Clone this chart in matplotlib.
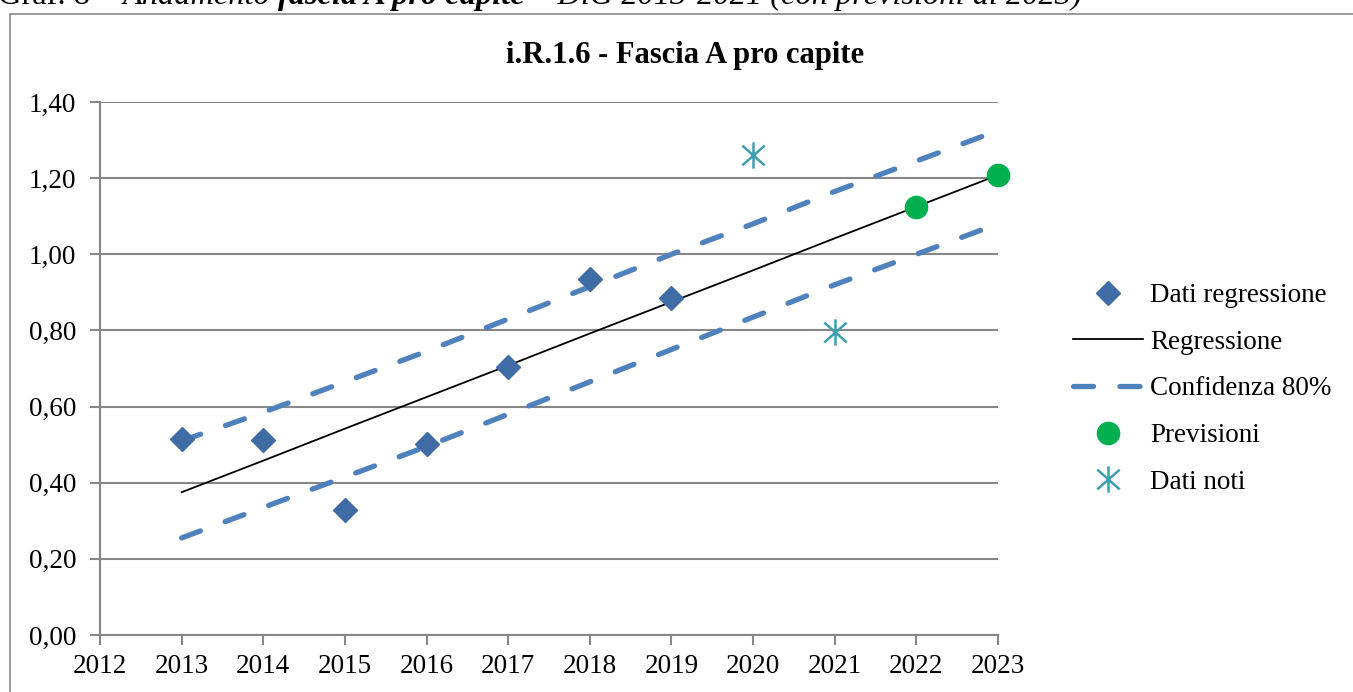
import numpy as np
import matplotlib.pyplot as plt
from matplotlib.patches import Rectangle
from matplotlib.path import Path

plt.rcParams['font.family'] = ['Liberation Serif', 'DejaVu Serif']

# dati
anni_regr = [2013, 2014, 2015, 2016, 2017, 2018, 2019]
dati_regr = [0.515, 0.512, 0.328, 0.502, 0.704, 0.935, 0.885]
anni_linea = [2013, 2014, 2015, 2016, 2017, 2018, 2019, 2020, 2021, 2022, 2023]
regressione = [0.375, 0.458, 0.542, 0.625, 0.708, 0.792, 0.875, 0.958, 1.042, 1.125, 1.208]
conf_sup = [0.51, 0.585, 0.665, 0.745, 0.83, 0.915, 1.0, 1.08, 1.165, 1.245, 1.325]
conf_inf = [0.255, 0.335, 0.415, 0.495, 0.58, 0.665, 0.75, 0.835, 0.92, 1.0, 1.08]
anni_prev = [2022, 2023]
previsioni = [1.125, 1.208]
anni_noti = [2020, 2021]
dati_noti = [1.262, 0.797]
y_ticks = [0.0, 0.2, 0.4, 0.6, 0.8, 1.0, 1.2, 1.4]
x_ticks = list(range(2012, 2024))

GRIGIO = '#878787'
BLU = '#4F81BD'
BLU_SCURO = '#3F6CA5'
VERDE = '#00B050'
TEAL = '#3E9FB0'

fig = plt.figure(figsize=(13.53, 6.92), dpi=100)
ax = fig.add_axes([100 / 1353, 57 / 692, 898 / 1353, 533 / 692])

# cornice del grafico
fig.patches.append(Rectangle((10 / 1353, -0.05), 1.1, 1.05 - 14 / 692,
                             transform=fig.transFigure, fill=False,
                             edgecolor=GRIGIO, lw=1.2))

# asterisco stile Excel (verticale + X)
ast = Path([(0, -1), (0, 1), (-0.85, -0.75), (0.85, 0.75), (-0.85, 0.75), (0.85, -0.75)],
           [Path.MOVETO, Path.LINETO, Path.MOVETO, Path.LINETO, Path.MOVETO, Path.LINETO])

ax.plot(anni_linea, conf_sup, color=BLU, lw=3.8, linestyle=(0, (3.8, 5.0)),
        dash_capstyle='round', label='Confidenza 80%', zorder=3)
ax.plot(anni_linea, conf_inf, color=BLU, lw=3.8, linestyle=(0, (3.8, 5.0)),
        dash_capstyle='round', zorder=3)
ax.plot(anni_linea, regressione, color='black', lw=1.3, label='Regressione', zorder=4)
ax.plot(anni_regr, dati_regr, 'D', color=BLU_SCURO, ms=12, ls='none',
        label='Dati regressione', zorder=5)
ax.plot(anni_prev, previsioni, 'o', color=VERDE, ms=16, ls='none',
        label='Previsioni', zorder=5, clip_on=False)
ax.plot(anni_noti, dati_noti, marker=ast, color=TEAL, mec=TEAL, ms=19, mew=1.8,
        ls='none', label='Dati noti', zorder=5)

ax.set_xlim(2012, 2023)
ax.set_ylim(0, 1.4)
ax.set_xticks(x_ticks)
ax.set_yticks(y_ticks)
ax.set_yticklabels([f'{v:.2f}'.replace('.', ',') for v in y_ticks])
ax.tick_params(labelsize=19.5, color=GRIGIO, length=7, width=1.5)
ax.tick_params(axis='y', pad=10)
ax.tick_params(axis='x', pad=7)
ax.grid(axis='y', color=GRIGIO, lw=1.5)
ax.set_axisbelow(True)
for s in ['top', 'right']:
    ax.spines[s].set_visible(False)
for s in ['left', 'bottom']:
    ax.spines[s].set_color(GRIGIO)
    ax.spines[s].set_linewidth(1.5)

fig.text(685 / 1353, 1 - 55 / 692, 'i.R.1.6 - Fascia A pro capite',
         ha='center', va='center', fontsize=22, fontweight='bold')

handles, labels = ax.get_legend_handles_labels()
ordine = ['Dati regressione', 'Regressione', 'Confidenza 80%', 'Previsioni', 'Dati noti']
hl = dict(zip(labels, handles))
fig.legend([hl[k] for k in ordine], ordine, loc='upper left',
           bbox_to_anchor=(1073 / 1353, 1 - 283 / 692), frameon=False,
           fontsize=19.5, handlelength=2.6, handletextpad=0.26, labelspacing=0.8,
           borderpad=0, borderaxespad=0)

# didascalia in alto (tagliata)
pezzi = [('Graf. 8 – ', 'normal', 'normal'),
         ('Andamento ', 'italic', 'normal'),
         ('fascia A pro capite', 'italic', 'bold'),
         (' – DiG 2013-2021 (con previsioni al 2023)', 'italic', 'normal')]
fig.canvas.draw()
r = fig.canvas.get_renderer()
x = -2 / 1353
for testo, stile, peso in pezzi:
    t = fig.text(x, 1 - 4 / 692, testo, fontsize=23.3, style=stile, fontweight=peso,
                 va='baseline', ha='left')
    w = t.get_window_extent(renderer=r).width
    x += w / 1353

fig.savefig('out.png', dpi=100)
